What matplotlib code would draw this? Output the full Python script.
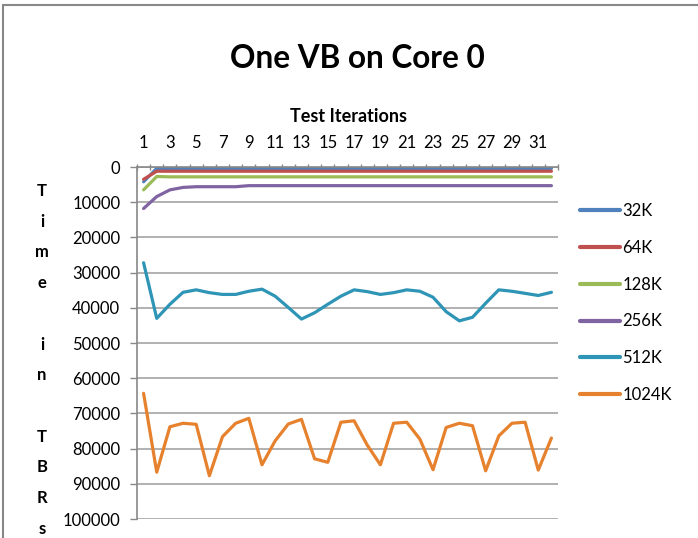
import matplotlib
matplotlib.use("Agg")
import matplotlib.pyplot as plt
from matplotlib.patches import Rectangle

plt.rcParams['font.family'] = ['Lato', 'DejaVu Sans']

iterations = list(range(1, 33))
tick_labels = ['1', '3', '5', '7', '9', '11', '13', '15', '17', '19', '21', '23', '25', '27', '29', '31']
tick_positions = [1, 3, 5, 7, 9, 11, 13, 15, 17, 19, 21, 23, 25, 27, 29, 31]
yticks = [0, 10000, 20000, 30000, 40000, 50000, 60000, 70000, 80000, 90000, 100000]

s32 = [4200, 400, 400, 400, 400, 400, 400, 400, 400, 400, 400, 400, 400, 400, 400, 400,
       400, 400, 400, 400, 400, 400, 400, 400, 400, 400, 400, 400, 400, 400, 400, 400]
s64 = [3500, 1200, 1200, 1200, 1200, 1200, 1200, 1200, 1200, 1200, 1200, 1200, 1200, 1200, 1200, 1200,
       1200, 1200, 1200, 1200, 1200, 1200, 1200, 1200, 1200, 1200, 1200, 1200, 1200, 1200, 1200, 1200]
s128 = [6500, 2700, 2800, 2800, 2800, 2800, 2800, 2800, 2800, 2800, 2800, 2800, 2800, 2800, 2800, 2800,
        2800, 2800, 2800, 2800, 2800, 2800, 2800, 2800, 2800, 2800, 2800, 2800, 2800, 2800, 2800, 2800]
s256 = [11800, 8400, 6500, 5800, 5600, 5600, 5600, 5600, 5300, 5300, 5300, 5300, 5300, 5300, 5300, 5300,
        5300, 5300, 5300, 5300, 5300, 5300, 5300, 5300, 5300, 5300, 5300, 5300, 5300, 5300, 5300, 5300]
s512 = [27200, 43000, 39000, 35600, 34900, 35700, 36200, 36200, 35300, 34700, 36700, 39900, 43200, 41400,
        39000, 36700, 34900, 35400, 36200, 35700, 34900, 35300, 37000, 41100, 43700, 42700, 38700, 34900,
        35300, 35900, 36500, 35600]
s1024 = [64300, 86700, 73800, 72800, 73100, 87700, 76600, 72800, 71400, 84600, 77800, 73000, 71700, 82900,
         83900, 72500, 72100, 79000, 84600, 72800, 72500, 77300, 86000, 74000, 72800, 73500, 86300, 76400,
         72800, 72500, 86100, 77000]

series = [('32K', s32, '#4F81BD'), ('64K', s64, '#C0504D'), ('128K', s128, '#9BBB59'),
          ('256K', s256, '#8064A2'), ('512K', s512, '#2E95B6'), ('1024K', s1024, '#E6812E')]

W, H = 698, 538
fig = plt.figure(figsize=(W / 100, H / 100), dpi=100)
ax = fig.add_axes([137 / W, 1 - 519 / H, 421 / W, 352 / H])

for name, vals, col in series:
    ax.plot(iterations, vals, color=col, lw=2.3, label=name, solid_capstyle='round')

ax.set_xlim(0.5, 32.5)
ax.set_ylim(100000, 0)
ax.set_yticks(yticks)
ax.set_yticklabels([str(v) for v in yticks])
ax.xaxis.tick_top()
ax.set_xticks(tick_positions)
ax.set_xticklabels(tick_labels)
ax.set_xticks([i + 0.5 for i in range(0, 33)], minor=True)
ax.tick_params(axis='x', which='major', length=0, pad=11.5, labelsize=12, colors='#000000')
ax.tick_params(axis='x', which='minor', length=5, direction='inout', color='#888888', width=1)
ax.tick_params(axis='y', which='major', length=5, direction='out', color='#888888', width=1,
               pad=7, labelsize=12)
ax.grid(axis='y', color='#aaaaaa', lw=1.3)
ax.set_axisbelow(True)
for sp in ['right', 'bottom']:
    ax.spines[sp].set_visible(False)
for sp in ['left', 'top']:
    ax.spines[sp].set_color('#888888')
    ax.spines[sp].set_linewidth(1.2)

fig.text(357 / W, 1 - 58 / H, 'One VB on Core 0', ha='center', va='center',
         fontsize=22.7, fontweight='bold')
fig.text(348 / W, 1 - 116 / H, 'Test Iterations', ha='center', va='center',
         fontsize=13, fontweight='bold')

ylabel = 'Time in TBRs'
letters = list('Time') + [''] + list('in') + [''] + list('TBRs')
y0, dy = 191, 30.7
for k, ch in enumerate(letters):
    if ch:
        fig.text(42 / W, 1 - (y0 + k * dy) / H, ch, ha='center', va='center',
                 fontsize=12, fontweight='bold')

leg = ax.legend(loc='upper left', bbox_to_anchor=(580 / W, 1 - 203 / H),
                bbox_transform=fig.transFigure, frameon=False, fontsize=12,
                handlelength=2.4, handletextpad=0.15, labelspacing=1.25,
                borderpad=0, borderaxespad=0)
for line in leg.get_lines():
    line.set_linewidth(3)

fig.patches.append(Rectangle((3 / W, -0.1), (W + 5) / W, (H - 5) / H + 0.1, transform=fig.transFigure,
                             fill=False, edgecolor='#888888', lw=1.5))

fig.savefig('out.png', dpi=100)
